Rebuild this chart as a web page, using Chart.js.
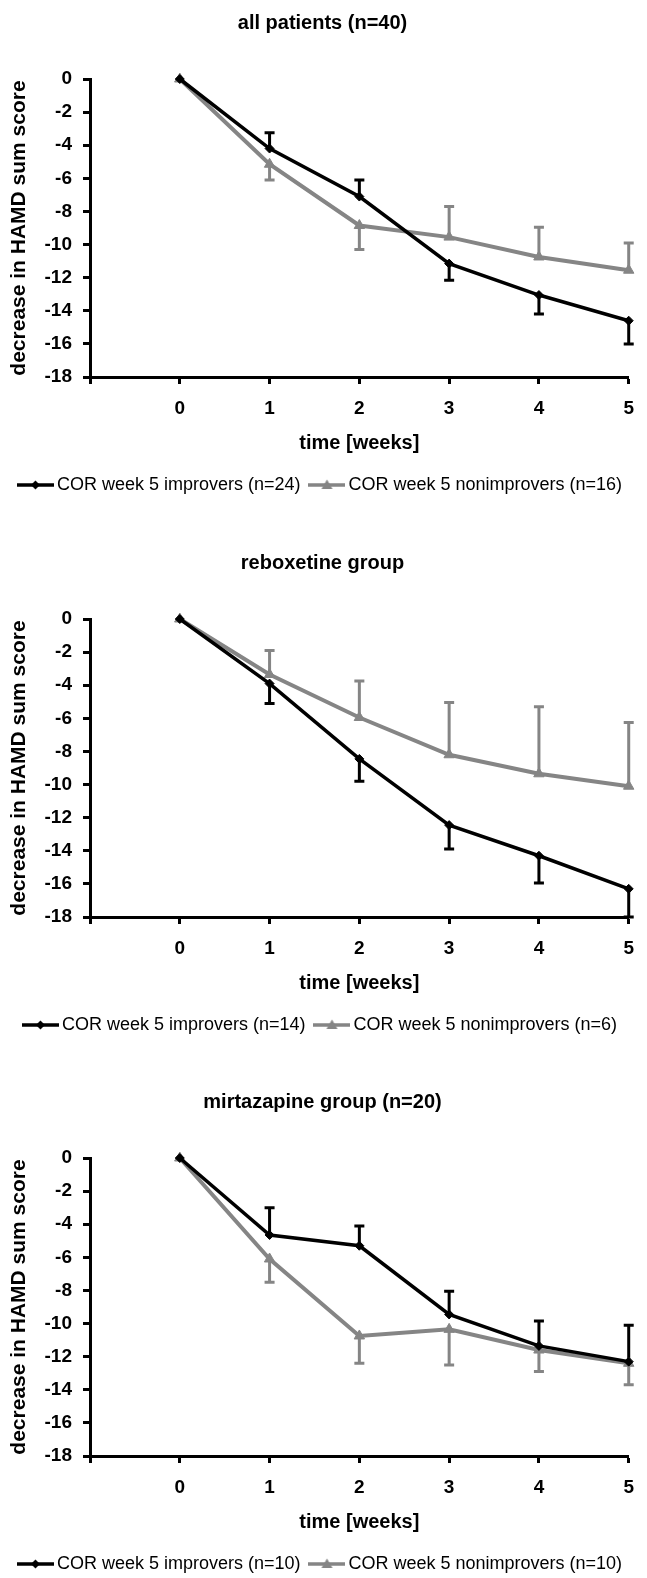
<!DOCTYPE html>
<html>
<head>
<meta charset="utf-8">
<script src="https://cdn.jsdelivr.net/npm/chart.js@4.4.1/dist/chart.umd.min.js"></script>
<style>
  html, body { margin: 0; padding: 0; background: #fff; overflow: hidden; }
  .panel { position: absolute; left: 0; width: 647px; height: 540px; }
</style>
</head>
<body>
<div class="panel" style="top:0px"><canvas id="chart1" width="647" height="540"></canvas></div>
<div class="panel" style="top:540px"><canvas id="chart2" width="647" height="540"></canvas></div>
<div class="panel" style="top:1079px"><canvas id="chart3" width="647" height="540"></canvas></div>
<script>
// weeks on the x axis
const weeks = [0, 1, 2, 3, 4, 5];
const yTicks = [0, -2, -4, -6, -8, -10, -12, -14, -16, -18];

// all patients
const allImprovers = [0, -4.2, -7.1, -11.15, -13.05, -14.6];
const allImproversErr = [null, -3.25, -6.1, -12.15, -14.2, -16.0];
const allNonimprovers = [0, -5.15, -8.85, -9.55, -10.75, -11.55];
const allNonimproversErr = [null, -6.1, -10.3, -7.7, -8.95, -9.9];

// reboxetine group
const reboImprovers = [0, -3.9, -8.45, -12.45, -14.3, -16.3];
const reboImproversErr = [null, -5.1, -9.8, -13.9, -15.95, -18];
const reboNonimprovers = [0, -3.35, -5.95, -8.2, -9.35, -10.1];
const reboNonimproversErr = [null, -1.9, -3.75, -5.05, -5.3, -6.25];

// mirtazapine group
const mirtImprovers = [0, -4.65, -5.3, -9.45, -11.35, -12.3];
const mirtImproversErr = [null, -3.0, -4.1, -8.05, -9.85, -10.1];
const mirtNonimprovers = [0, -6.1, -10.75, -10.35, -11.6, -12.4];
const mirtNonimproversErr = [null, -7.5, -12.4, -12.5, -12.9, -13.7];

const BLACK = '#000000';
const GREY = '#858585';

Chart.defaults.font.family = "'Liberation Sans', Arial, sans-serif";
Chart.defaults.color = '#000';

// vertical one-sided error bars
const errorBars = {
    id: 'errorBars',
    beforeDatasetsDraw(chart) {
        const ctx = chart.ctx;
        const yScale = chart.scales.y;
        chart.data.datasets.forEach((ds, i) => {
            const meta = chart.getDatasetMeta(i);
            ctx.save();
            ctx.strokeStyle = ds.borderColor;
            ctx.lineWidth = 3;
            ctx.lineCap = 'butt';
            meta.data.forEach((pt, j) => {
                const end = ds.errorTo[j];
                if (end === null) return;
                const yEnd = yScale.getPixelForValue(end);
                ctx.beginPath();
                ctx.moveTo(pt.x, pt.y);
                ctx.lineTo(pt.x, yEnd);
                ctx.moveTo(pt.x - 5, yEnd);
                ctx.lineTo(pt.x + 5, yEnd);
                ctx.stroke();
            });
            ctx.restore();
        });
    }
};

// little line + marker pictures for the legend
function legendIcon(color, marker) {
    const c = document.createElement('canvas');
    c.width = 37;
    c.height = 14;
    const g = c.getContext('2d');
    g.strokeStyle = color;
    g.fillStyle = color;
    g.lineWidth = 3.5;
    g.beginPath();
    g.moveTo(0, 7);
    g.lineTo(37, 7);
    g.stroke();
    g.beginPath();
    if (marker === 'diamond') {
        g.moveTo(18.5, 2.5); g.lineTo(23, 7); g.lineTo(18.5, 11.5); g.lineTo(14, 7);
    } else {
        g.moveTo(18.5, 1.5); g.lineTo(24, 11); g.lineTo(13, 11);
    }
    g.closePath();
    g.fill();
    return c;
}
const legendIcons = [legendIcon(BLACK, 'diamond'), legendIcon(GREY, 'triangle')];

function toPoints(values) {
    return weeks.map((w, i) => ({ x: w, y: values[i] }));
}

function makePanel(id, title, imp, impErr, non, nonErr, impLabel, nonLabel) {
    const ctx = document.getElementById(id).getContext('2d');
    return new Chart(ctx, {
        type: 'line',
        data: {
            datasets: [{
                label: impLabel,
                data: toPoints(imp),
                errorTo: impErr,
                borderColor: BLACK,
                backgroundColor: BLACK,
                borderWidth: 3.5,
                pointStyle: 'rectRot',
                pointRadius: 4.5,
                pointBorderWidth: 1,
                tension: 0,
                clip: false
            }, {
                label: nonLabel,
                data: toPoints(non),
                errorTo: nonErr,
                borderColor: GREY,
                backgroundColor: GREY,
                borderWidth: 4,
                pointStyle: 'triangle',
                pointRadius: 6,
                pointBorderWidth: 1,
                tension: 0,
                clip: false
            }]
        },
        options: {
            responsive: false,
            animation: false,
            devicePixelRatio: 1,
            layout: { padding: { left: 5, right: 7, top: 0, bottom: 36 } },
            plugins: {
                tooltip: { enabled: false },
                title: {
                    display: true,
                    text: title,
                    color: '#000',
                    font: { size: 20, weight: 'bold' },
                    padding: { top: 11, bottom: 44 }
                },
                legend: {
                    position: 'bottom',
                    labels: {
                        usePointStyle: true,
                        pointStyleWidth: 25,
                        padding: 14,
                        color: '#000',
                        font: { size: 18 },
                        generateLabels: chart => Chart.defaults.plugins.legend.labels.generateLabels(chart)
                            .map(item => ({ ...item, pointStyle: legendIcons[item.datasetIndex] }))
                    }
                }
            },
            scales: {
                x: {
                    type: 'linear',
                    min: -1,
                    max: 5,
                    afterFit: scale => { scale.height = 85; },
                    afterBuildTicks: scale => {
                        scale.ticks = [-1].concat(weeks).map(v => ({ value: v }));
                    },
                    ticks: {
                        padding: 13,
                        font: { size: 19, weight: 'bold' },
                        callback: v => (v < 0 ? '' : String(v))
                    },
                    grid: { drawOnChartArea: false, tickLength: 7, tickWidth: 3, tickColor: '#000' },
                    border: { color: '#000', width: 3 },
                    title: {
                        display: true,
                        text: 'time [weeks]',
                        font: { size: 20, weight: 'bold' },
                        padding: { top: 0, bottom: 7 }
                    }
                },
                y: {
                    min: -18,
                    max: 0,
                    afterFit: scale => { scale.width = 85; },
                    afterBuildTicks: scale => {
                        scale.ticks = yTicks.map(v => ({ value: v }));
                    },
                    ticks: {
                        padding: 11,
                        font: { size: 19, weight: 'bold' }
                    },
                    grid: { drawOnChartArea: false, tickLength: 7, tickWidth: 3, tickColor: '#000' },
                    border: { color: '#000', width: 3 },
                    title: {
                        display: true,
                        text: 'decrease in HAMD sum score',
                        font: { size: 21, weight: 'bold' },
                        padding: { top: 2, bottom: 0 }
                    }
                }
            }
        },
        plugins: [errorBars]
    });
}

makePanel('chart1', 'all patients (n=40)', allImprovers, allImproversErr, allNonimprovers, allNonimproversErr,
    'COR week 5 improvers (n=24)', 'COR week 5 nonimprovers (n=16)');
makePanel('chart2', 'reboxetine group', reboImprovers, reboImproversErr, reboNonimprovers, reboNonimproversErr,
    'COR week 5 improvers (n=14)', 'COR week 5 nonimprovers (n=6)');
makePanel('chart3', 'mirtazapine group (n=20)', mirtImprovers, mirtImproversErr, mirtNonimprovers, mirtNonimproversErr,
    'COR week 5 improvers (n=10)', 'COR week 5 nonimprovers (n=10)');
</script>
</body>
</html>
